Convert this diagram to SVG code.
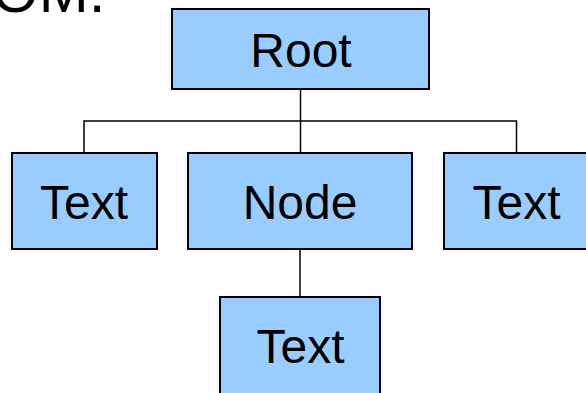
<svg xmlns="http://www.w3.org/2000/svg" width="586" height="393" viewBox="0 0 586 393">
  <style>
    .box { fill: #99ccff; stroke: #000; stroke-width: 2; }
    .lbl { font-family: "Liberation Sans", Arial, sans-serif; font-size: 48px; fill: #000; text-anchor: middle; }
    .link { fill: none; stroke: #000; stroke-width: 1.5; }
  </style>
  <rect width="586" height="393" fill="#fff"/>
  <text x="-8" y="12" font-family="Liberation Sans, Arial, sans-serif" font-size="60" fill="#000">OM.</text>
  <g id="connectors">
    <line class="link" x1="300.5" y1="89" x2="300.5" y2="121" stroke-width="2.5"/>
    <polyline class="link" points="84,153 84,121 516.5,121 516.5,153"/>
    <line class="link" x1="300.5" y1="121" x2="300.5" y2="153"/>
    <line class="link" x1="300" y1="249" x2="300" y2="297"/>
  </g>
  <g id="root">
    <rect class="box" x="172" y="9" width="257" height="80"/>
    <text class="lbl" x="301" y="67">Root</text>
  </g>
  <g id="text-left">
    <rect class="box" x="12" y="153" width="145" height="96"/>
    <text class="lbl" x="84" y="219">Text</text>
  </g>
  <g id="node">
    <rect class="box" x="188" y="153" width="224" height="96"/>
    <text class="lbl" x="300" y="219">Node</text>
  </g>
  <g id="text-right">
    <rect class="box" x="444" y="153" width="150" height="96"/>
    <text class="lbl" x="516.5" y="219">Text</text>
  </g>
  <g id="text-bottom">
    <rect class="box" x="220" y="297" width="160" height="110"/>
    <text class="lbl" x="300.5" y="363">Text</text>
  </g>
</svg>
